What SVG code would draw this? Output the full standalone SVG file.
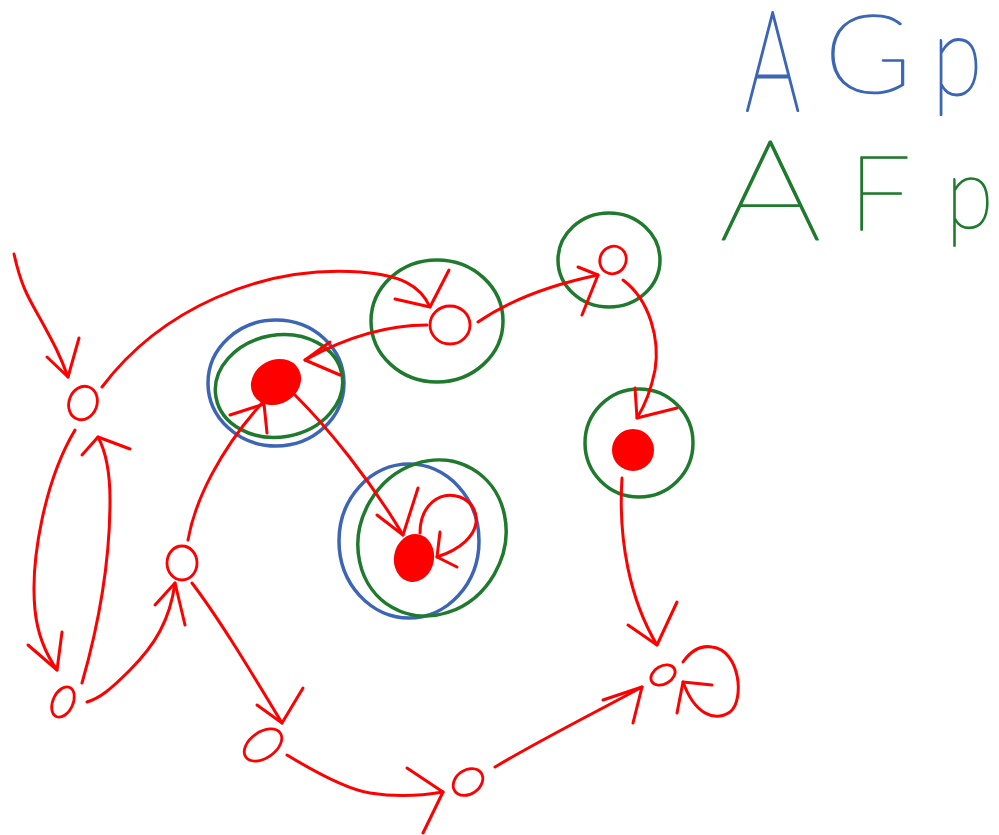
<svg xmlns="http://www.w3.org/2000/svg" width="999" height="835" viewBox="0 0 999 835">
  <style>
    .edge { fill: none; stroke: #ff0000; stroke-width: 3; stroke-linecap: round; stroke-linejoin: round; }
    .state { fill: none; stroke: #ff0000; stroke-width: 2.8; }
    .mark { fill: #ff0000; stroke: #ff0000; stroke-width: 2; }
    .ring-g { fill: none; stroke: #1f7a2e; stroke-width: 3.5; }
    .ring-b { fill: none; stroke: #3c65b5; stroke-width: 3.5; }
    .label { font-family: Lato, "Open Sans", "DejaVu Sans", sans-serif; font-weight: 100; font-size: 140px; stroke-width: 1.8; stroke-linejoin: round; }
  </style>
  <rect width="999" height="835" fill="#ffffff"/>

  <!-- formula labels -->
  <g id="label-AGp" class="label" fill="#3c65b5" stroke="#3c65b5">
    <text transform="translate(745,111) scale(0.62,1)" stroke-width="2.6">A</text>
    <text transform="translate(824,93) scale(0.85,0.78)" stroke-width="2.2">G</text>
    <text transform="translate(932,95) scale(0.66,0.8)" stroke-width="2.4">p</text>
  </g>
  <g id="label-AFp" class="label" fill="#1f7a2e" stroke="#1f7a2e">
    <text transform="translate(719,240) scale(1.15,1.0)" stroke-width="1.4">A</text>
    <text transform="translate(848,230) scale(0.8,0.75)">F</text>
    <text transform="translate(946,228) scale(0.62,0.72)" stroke-width="2.4">p</text>
  </g>

  <!-- states -->
  <g id="node-a"><ellipse class="state" cx="83" cy="403" rx="14" ry="17" transform="rotate(20 83 403)"/></g>
  <g id="node-b"><ellipse class="state" cx="63" cy="702" rx="10" ry="16" transform="rotate(25 63 702)"/></g>
  <g id="node-c"><ellipse class="state" cx="182" cy="563" rx="15" ry="17"/></g>
  <g id="node-d">
    <ellipse class="ring-b" cx="276" cy="383" rx="68" ry="63"/>
    <ellipse class="ring-g" cx="279" cy="386" rx="64" ry="51" transform="rotate(-10 279 386)"/>
    <ellipse class="mark" cx="276" cy="382" rx="25" ry="21" transform="rotate(-30 276 382)"/>
  </g>
  <g id="node-e">
    <ellipse class="ring-g" cx="437" cy="321" rx="66" ry="61"/>
    <ellipse class="state" cx="450" cy="325" rx="20" ry="19"/>
  </g>
  <g id="node-f">
    <ellipse class="ring-b" cx="409" cy="541" rx="70" ry="77"/>
    <ellipse class="ring-g" cx="432" cy="538" rx="72" ry="80" transform="rotate(30 432 538)"/>
    <ellipse class="mark" cx="414" cy="558" rx="19" ry="23" transform="rotate(10 414 558)"/>
  </g>
  <g id="node-g">
    <ellipse class="ring-g" cx="609" cy="260" rx="51" ry="47"/>
    <ellipse class="state" cx="613" cy="260" rx="13" ry="14" transform="rotate(30 613 260)"/>
  </g>
  <g id="node-h">
    <ellipse class="ring-g" cx="639" cy="443" rx="54" ry="54"/>
    <circle class="mark" cx="633" cy="450" r="20"/>
  </g>
  <g id="node-i"><ellipse class="state" cx="663" cy="675" rx="13" ry="9" transform="rotate(-30 663 675)"/></g>
  <g id="node-j"><ellipse class="state" cx="468" cy="782" rx="16" ry="12" transform="rotate(-35 468 782)"/></g>
  <g id="node-k"><ellipse class="state" cx="263" cy="745" rx="21" ry="13" transform="rotate(-35 263 745)"/></g>

  <!-- transitions, each with its hand-drawn arrowhead -->
  <g id="connectors">
    <path class="edge" d="M14,254 C22,290 30,300 42,322 S60,355 68,377"/>
    <path class="edge" d="M47,357 L68,377 L79,338"/>

    <path class="edge" d="M102,387 C160,310 260,265 360,272 C400,275 420,285 430,307"/>
    <path class="edge" d="M395,299 L430,307 L449,270"/>

    <path class="edge" d="M75,430 C45,480 30,560 35,610 C38,640 50,660 57,670"/>
    <path class="edge" d="M28,645 L57,670 L62,632"/>

    <path class="edge" d="M82,683 C100,620 110,560 110,500 C110,470 105,450 98,437"/>
    <path class="edge" d="M82,455 L98,437 L130,449"/>

    <path class="edge" d="M87,702 C100,698 110,690 130,670 C155,645 170,620 175,583"/>
    <path class="edge" d="M155,605 L175,583 L185,625"/>

    <path class="edge" d="M188,540 C195,500 220,450 262,403"/>
    <path class="edge" d="M230,415 L264,404 L267,433"/>

    <path class="edge" d="M427,325 C390,325 350,335 305,360"/>
    <path class="edge" d="M330,342 L305,360 L340,375"/>

    <path class="edge" d="M295,395 C330,430 370,480 403,535"/>
    <path class="edge" d="M377,515 L403,535 L418,488"/>

    <path class="edge" d="M420,533 C420,505 440,490 460,497 C482,505 488,540 437,557"/>
    <path class="edge" d="M440,532 L437,557 L457,567"/>

    <path class="edge" d="M478,322 C510,300 550,285 598,275"/>
    <path class="edge" d="M578,267 L598,275 L582,315"/>

    <path class="edge" d="M623,280 C650,300 660,340 655,370 C650,395 642,410 637,418"/>
    <path class="edge" d="M635,388 L637,418 L677,408"/>

    <path class="edge" d="M622,478 C618,540 630,600 657,645"/>
    <path class="edge" d="M628,625 L657,645 L677,602"/>

    <path class="edge" d="M683,662 C690,652 700,645 712,647 C740,650 745,700 730,712 C715,722 695,715 683,682"/>
    <path class="edge" d="M677,713 L683,682 L712,685"/>

    <path class="edge" d="M495,767 C540,740 600,710 642,687"/>
    <path class="edge" d="M603,700 L642,687 L633,723"/>

    <path class="edge" d="M287,755 C320,775 350,790 370,793 C395,797 420,796 443,792"/>
    <path class="edge" d="M407,768 L443,792 L423,833"/>

    <path class="edge" d="M192,583 C220,620 250,670 282,723"/>
    <path class="edge" d="M257,705 L282,723 L303,688"/>
  </g>
</svg>
